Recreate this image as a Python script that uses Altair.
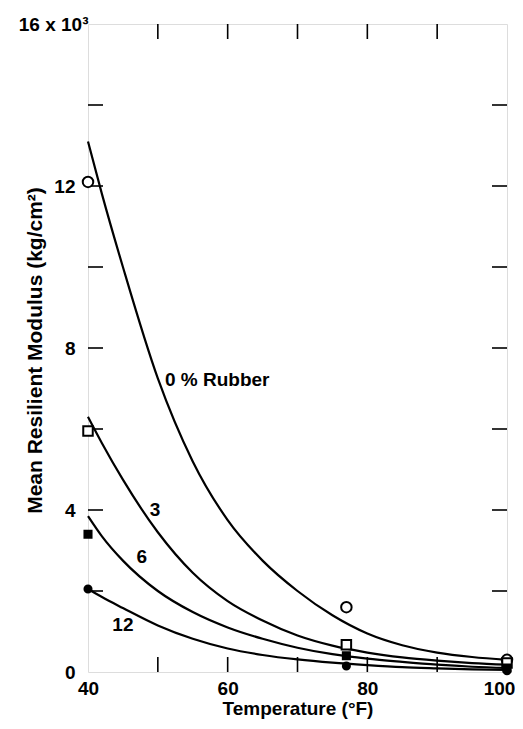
import altair as alt
import pandas as pd

# Curve readings (temperature °F, modulus in 10^3 kg/cm^2)
curve_temps = [40, 42, 45, 50, 55, 60, 65, 70, 75, 80, 85, 90, 95, 100]
curve_0 = [13.1, 11.8, 10.0, 7.25, 5.2, 3.75, 2.75, 2.0, 1.4, 0.95, 0.66, 0.48, 0.37, 0.30]
curve_3 = [6.3, 5.65, 4.75, 3.45, 2.45, 1.75, 1.27, 0.9, 0.65, 0.48, 0.36, 0.28, 0.22, 0.18]
curve_6 = [3.85, 3.35, 2.75, 2.0, 1.48, 1.1, 0.82, 0.6, 0.44, 0.33, 0.25, 0.18, 0.13, 0.10]
curve_12 = [2.05, 1.85, 1.58, 1.15, 0.82, 0.58, 0.42, 0.31, 0.23, 0.17, 0.12, 0.09, 0.065, 0.05]

# Observed points
obs_temps = [40, 77, 100]
obs_0 = [12.1, 1.6, 0.3]
obs_3 = [5.95, 0.67, 0.22]
obs_6 = [3.4, 0.4, 0.1]
obs_12 = [2.05, 0.15, 0.03]

# Curve labels
label_text = ["0 % Rubber", "3", "6", "12"]
label_x = [58.5, 49.6, 47.7, 45.0]
label_y = [7.2, 4.0, 2.84, 1.16]

# Tick positions
x_ticks = [50, 60, 70, 80, 90]
y_ticks = [2, 4, 6, 8, 10, 12, 14]

series = ["0", "3", "6", "12"]
curves = [curve_0, curve_3, curve_6, curve_12]
obs = [obs_0, obs_3, obs_6, obs_12]

curve_df = pd.DataFrame([
    {"s": s, "t": t, "v": v}
    for s, c in zip(series, curves) for t, v in zip(curve_temps, c)
])
obs_df = pd.DataFrame([
    {"s": s, "t": t, "v": v}
    for s, o in zip(series, obs) for t, v in zip(obs_temps, o)
])
lab_df = pd.DataFrame({"text": label_text, "t": label_x, "v": label_y})
xt_df = pd.DataFrame({"t": x_ticks})
yt_df = pd.DataFrame({"v": y_ticks})

FONT = "Liberation Sans"
W, H = 419, 648
xs = alt.Scale(domain=[40, 100], nice=False)
ys = alt.Scale(domain=[0, 16], nice=False)

x_axis = alt.Axis(values=[40, 60, 80, 100], title="Temperature (°F)", domain=False, ticks=False,
                  grid=False, labelFontSize=19, labelFontWeight="bold", labelFont=FONT,
                  labelOffset={"condition": {"test": "datum.value == 100", "value": -8}, "value": 0},
                  titleFontSize=19, titleFontWeight="bold", titleFont=FONT, labelPadding=7,
                  titlePadding=1, labelColor="black", titleColor="black", labelFlush=False)
y_axis = alt.Axis(values=[0, 4, 8, 12, 16], title="Mean Resilient Modulus (kg/cm²)", domain=False,
                  ticks=False, grid=False, labelFontSize=19, labelFontWeight="bold", labelFont=FONT,
                  titleFontSize=21, titleFontWeight="bold", titleFont=FONT,
                  labelPadding={"condition": {"test": "datum.value == 16", "value": 0}, "value": 13},
                  titleX=-53, titleY=326, titleAlign="center", titleBaseline="middle", titleAngle=-90,
                  labelColor="black", titleColor="black",
                  labelExpr="datum.value == 16 ? '16 x 10³' : datum.label")

lines = alt.Chart(curve_df).mark_line(color="black", strokeWidth=2.2, interpolate="monotone").encode(
    x=alt.X("t:Q", scale=xs, axis=x_axis),
    y=alt.Y("v:Q", scale=ys, axis=y_axis),
    detail="s:N",
)

def pts(s, shape, filled, size):
    return alt.Chart(obs_df[obs_df.s == s]).mark_point(
        shape=shape, filled=True, fill="black" if filled else "white",
        stroke="black", strokeWidth=2, size=size, opacity=1
    ).encode(x=alt.X("t:Q", scale=xs), y=alt.Y("v:Q", scale=ys))

p0 = pts("0", "circle", False, 110)
p3 = pts("3", "square", False, 90)
p6 = pts("6", "square", True, 50)
p12 = pts("12", "circle", True, 50)

labels = alt.Chart(lab_df).mark_text(font=FONT, fontSize=19, fontWeight="bold", color="black").encode(
    x=alt.X("t:Q", scale=xs), y=alt.Y("v:Q", scale=ys), text="text:N"
)

TL = 15
left_t = alt.Chart(yt_df).mark_rule(color="black", strokeWidth=1.6).encode(
    y=alt.Y("v:Q", scale=ys), x=alt.value(0), x2=alt.value(TL))
right_t = alt.Chart(yt_df).mark_rule(color="black", strokeWidth=1.6).encode(
    y=alt.Y("v:Q", scale=ys), x=alt.value(W - TL), x2=alt.value(W))
bot_t = alt.Chart(xt_df).mark_rule(color="black", strokeWidth=1.6).encode(
    x=alt.X("t:Q", scale=xs), y=alt.value(H - TL), y2=alt.value(H))
top_t = alt.Chart(xt_df).mark_rule(color="black", strokeWidth=1.6).encode(
    x=alt.X("t:Q", scale=xs), y=alt.value(0), y2=alt.value(TL))

chart = alt.layer(lines, left_t, right_t, bot_t, top_t, p0, p3, p6, p12, labels).properties(
    width=W, height=H,
    autosize=alt.AutoSizeParams(type="none"),
    padding={"left": 80, "top": 16, "right": 8, "bottom": 49},
).configure_view(stroke="black", strokeWidth=2).configure(background="white")

chart.save("out.html", embed_options={"renderer": "svg", "actions": False})
